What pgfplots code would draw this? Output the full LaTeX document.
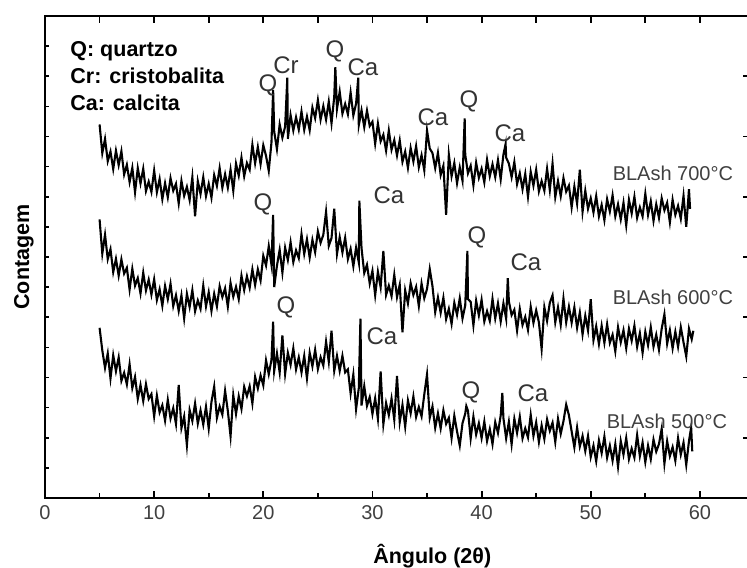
\documentclass[border=0pt]{standalone}
\usepackage{pgfplots}
\pgfplotsset{compat=1.18}
\usepackage{fontspec}
\setmainfont{Liberation Sans}
\begin{document}
\begin{tikzpicture}
\begin{axis}[at={(0,0)}, anchor=south west, scale only axis,
  width=352pt, height=241pt,
  xmin=0, xmax=64.5, ymin=0, ymax=16,
  xtick={0,10,...,60}, minor x tick num=1,
  ytick={0,1,...,16}, yticklabels={},
  tick align=inside, major tick length=2pt, minor tick length=2pt,
  axis line style={line width=0.9pt},
  tick style={black, line width=0.8pt},
  tick label style={font=\fontsize{10}{12}\selectfont, text=black!75},
  /pgf/number format/assume math mode=true,
  xlabel={Ângulo (2θ)}, ylabel={Contagem},
  every axis x label/.style={at={(axis description cs:0.55,-0.12)}, anchor=center, font=\bfseries\fontsize{10.75}{13}\selectfont},
  every axis y label/.style={at={(axis description cs:-0.0298,0.5)}, rotate=90, anchor=center, font=\bfseries\fontsize{10.75}{13}\selectfont},
  ytick pos=left, xtick pos=both,
]
% BLAsh 700 C
\addplot[black, line width=1.05pt, line join=miter, miter limit=12] coordinates {
(5.00,12.40)(5.25,11.45)(5.50,11.92)(5.75,11.18)
(6.00,11.50)(6.25,10.92)(6.50,11.53)(6.75,11.05)
(7.00,11.51)(7.25,10.74)(7.50,11.06)(7.75,10.49)
(8.00,10.96)(8.25,10.15)(8.50,10.95)(8.75,10.44)
(9.00,10.93)(9.25,10.19)(9.50,10.50)(9.75,10.16)
(10.00,10.87)(10.25,10.15)(10.50,10.59)(10.75,9.92)
(11.00,10.45)(11.25,9.98)(11.50,10.62)(11.75,10.20)
(12.00,10.43)(12.25,9.78)(12.50,10.53)(12.75,10.03)
(13.00,10.33)(13.25,9.89)(13.50,10.65)(13.75,9.35)
(14.00,10.52)(14.25,10.09)(14.50,10.65)(14.75,10.02)
(15.00,10.43)(15.25,9.97)(15.50,10.72)(15.75,10.36)
(16.00,10.95)(16.25,10.30)(16.50,10.75)(16.75,10.30)
(17.00,10.90)(17.25,10.20)(17.50,11.10)(17.75,10.70)
(18.00,11.30)(18.25,10.68)(18.50,11.12)(18.75,10.90)
(19.00,11.73)(19.25,11.11)(19.50,11.65)(19.75,11.08)
(20.00,11.71)(20.25,11.36)(20.50,10.86)(20.75,11.81)(20.90,13.55)
(21.00,12.16)(21.25,11.58)(21.50,12.40)(21.75,11.96)
(22.00,12.33)(22.20,13.95)(22.25,11.92)(22.50,12.71)(22.75,12.20)
(23.00,12.64)(23.25,12.23)(23.50,12.83)(23.75,12.22)
(24.00,12.66)(24.25,12.21)(24.50,12.96)(24.75,12.61)
(25.00,13.21)(25.25,12.56)(25.50,13.01)(25.75,12.56)
(26.00,13.16)(26.25,12.44)(26.50,13.32)(26.60,14.30)(26.75,12.91)
(27.00,13.49)(27.25,12.76)(27.50,13.08)(27.75,12.74)
(28.00,13.46)(28.25,12.70)(28.50,13.09)(28.70,13.95)(28.75,12.38)
(29.00,12.87)(29.25,12.31)(29.50,12.86)(29.75,12.35)
(30.00,12.49)(30.25,11.76)(30.50,12.43)(30.75,11.84)
(31.00,12.06)(31.25,11.53)(31.50,12.20)(31.75,11.56)
(32.00,11.88)(32.25,11.37)(32.50,11.87)(32.75,11.16)
(33.00,11.50)(33.25,10.96)(33.50,11.62)(33.75,11.17)
(34.00,11.68)(34.25,10.98)(34.50,11.38)(34.75,10.88)
(35.00,12.20)(35.25,11.60)(35.50,11.45)(35.75,10.95)
(36.00,11.46)(36.25,10.72)(36.50,11.03)(36.75,9.40)
(37.00,11.40)(37.25,10.68)(37.50,11.12)(37.75,10.45)
(38.00,10.98)(38.25,10.53)(38.45,12.60)(38.50,11.40)(38.75,10.78)
(39.00,11.03)(39.25,10.38)(39.50,11.13)(39.75,10.63)
(40.00,10.93)(40.25,10.48)(40.50,11.23)(40.75,10.68)
(41.00,11.08)(41.25,10.65)(41.50,11.22)(41.75,10.58)
(42.00,11.40)(42.20,11.75)(42.25,11.30)(42.50,11.10)(42.75,10.65)
(43.00,11.15)(43.25,10.42)(43.50,10.78)(43.75,10.25)
(44.00,10.76)(44.25,10.00)(44.50,10.83)(44.75,10.37)
(45.00,10.90)(45.25,10.18)(45.50,10.52)(45.75,10.20)
(46.00,10.93)(46.25,10.22)(46.50,11.10)(46.75,9.99)
(47.00,10.52)(47.25,10.02)(47.50,10.62)(47.75,10.17)
(48.00,10.37)(48.25,9.65)(48.50,10.34)(48.75,9.77)
(49.00,10.90)(49.25,9.50)(49.50,10.20)(49.75,9.60)
(50.00,9.95)(50.25,9.48)(50.50,10.02)(50.75,9.35)
(51.00,9.73)(51.25,9.22)(51.50,9.92)(51.75,9.51)
(52.00,10.05)(52.25,9.35)(52.50,9.75)(52.75,9.25)
(53.00,9.80)(53.25,9.05)(53.50,9.90)(53.75,9.45)
(54.00,10.00)(54.25,9.30)(54.50,9.65)(54.75,9.35)
(55.00,10.10)(55.25,9.40)(55.50,9.85)(55.75,9.20)
(56.00,9.75)(56.25,9.30)(56.50,9.95)(56.75,9.55)
(57.00,9.80)(57.25,9.15)(57.50,9.90)(57.75,9.40)
(58.00,9.70)(58.25,9.27)(58.50,10.03)(58.75,9.00)
(59.00,10.25)(59.10,9.60)
};
% BLAsh 600 C
\addplot[black, line width=1.05pt, line join=miter, miter limit=12] coordinates {
(5.00,9.25)(5.25,8.11)(5.50,8.74)(5.75,7.93)
(6.00,8.26)(6.25,7.50)(6.50,7.94)(6.75,7.38)
(7.00,7.92)(7.25,7.45)(7.50,7.64)(7.75,6.92)
(8.00,7.61)(8.25,7.05)(8.50,7.30)(8.75,6.79)
(9.00,7.48)(9.25,6.89)(9.50,7.25)(9.75,6.75)
(10.00,7.26)(10.25,6.57)(10.50,6.93)(10.75,6.38)
(11.00,7.04)(11.25,6.60)(11.50,7.11)(11.75,6.37)
(12.00,6.73)(12.25,6.21)(12.50,6.73)(12.75,5.96)
(13.00,6.78)(13.25,6.34)(13.50,6.90)(13.75,6.20)
(14.00,6.56)(14.25,6.28)(14.50,7.05)(14.75,6.36)
(15.00,6.83)(15.25,6.21)(15.50,6.78)(15.75,6.36)
(16.00,7.03)(16.25,6.67)(16.50,6.96)(16.75,6.35)
(17.00,7.14)(17.25,6.68)(17.50,7.01)(17.75,6.60)
(18.00,7.38)(18.25,6.90)(18.50,7.36)(18.75,6.98)
(19.00,7.59)(19.25,7.07)(19.50,7.59)(19.75,7.22)
(20.00,8.04)(20.25,7.72)(20.50,8.36)(20.75,7.74)(20.90,9.40)
(21.00,7.00)(21.25,7.71)(21.50,8.24)(21.75,7.48)
(22.00,8.31)(22.25,7.90)(22.50,8.49)(22.75,7.83)
(23.00,8.22)(23.25,7.96)(23.50,8.76)(23.75,8.10)
(24.00,8.59)(24.25,7.98)(24.50,8.57)(24.75,8.16)
(25.00,8.85)(25.25,8.47)(25.50,8.74)(25.75,9.50)
(26.00,8.37)(26.25,8.63)(26.50,9.60)(26.75,8.10)
(27.00,8.66)(27.25,8.15)(27.50,8.64)(27.75,7.93)
(28.00,8.27)(28.25,7.69)(28.50,8.31)(28.75,7.82)(28.80,9.87)
(29.00,8.29)(29.25,7.47)(29.50,7.74)(29.75,7.12)
(30.00,7.54)(30.25,6.73)(30.50,7.51)(30.75,7.00)
(31.00,8.20)(31.25,6.74)(31.50,7.05)(31.75,6.70)
(32.00,7.41)(32.25,6.67)(32.50,7.08)(32.75,5.50)
(33.00,6.89)(33.25,6.46)(33.50,7.13)(33.75,6.74)
(34.00,7.01)(34.25,6.37)(34.50,7.12)(34.75,6.63)
(35.00,6.94)(35.25,7.60)(35.50,7.03)(35.75,6.17)
(36.00,6.66)(36.25,6.15)(36.50,6.65)(36.75,5.94)
(37.00,6.28)(37.25,5.78)(37.50,6.48)(37.75,6.08)
(38.00,6.63)(38.25,5.96)(38.50,6.39)(38.70,8.20)(38.75,6.60)
(39.00,6.51)(39.25,5.73)(39.50,6.55)(39.75,6.06)
(40.00,6.58)(40.25,5.86)(40.50,6.20)(40.75,5.88)
(41.00,6.61)(41.25,5.96)(41.50,6.46)(41.75,5.86)
(42.00,6.46)(42.25,5.95)(42.40,7.30)(42.50,6.53)(42.75,6.07)
(43.00,6.25)(43.25,5.56)(43.50,6.28)(43.75,5.74)
(44.00,6.01)(44.25,5.58)(44.50,6.35)(44.75,5.81)
(45.00,6.23)(45.25,5.83)(45.50,4.95)(45.75,6.33)
(46.00,5.88)(46.25,6.48)(46.50,6.73)(46.75,5.83)
(47.00,6.33)(47.25,5.75)(47.50,6.62)(47.75,5.83)
(48.00,6.35)(48.25,5.82)(48.50,6.33)(48.75,5.65)
(49.00,6.16)(49.25,5.43)(49.50,6.05)(49.75,5.56)
(50.00,6.60)(50.25,5.24)(50.50,5.70)(50.75,5.11)
(51.00,5.72)(51.25,5.15)(51.50,5.77)(51.75,5.15)
(52.00,5.42)(52.25,4.87)(52.50,5.67)(52.75,5.17)
(53.00,5.57)(53.25,4.97)(53.50,5.62)(53.75,5.22)
(54.00,5.72)(54.25,5.02)(54.50,5.47)(54.75,4.82)
(55.00,5.52)(55.25,5.07)(55.50,5.67)(55.75,5.02)
(56.00,5.42)(56.25,4.92)(56.50,5.62)(56.75,6.10)
(57.00,5.12)(57.25,5.57)(57.50,4.97)(57.75,5.52)
(58.00,5.02)(58.25,5.67)(58.50,5.17)(58.75,4.70)
(59.00,5.62)(59.25,5.27)(59.40,5.55)
};
% BLAsh 500 C
\addplot[black, line width=1.05pt, line join=miter, miter limit=12] coordinates {
(5.00,5.65)(5.25,4.90)(5.50,4.32)(5.75,4.80)
(6.00,3.97)(6.25,4.74)(6.50,4.21)(6.75,4.67)
(7.00,3.89)(7.25,4.16)(7.50,3.77)(7.75,4.44)
(8.00,3.65)(8.25,4.02)(8.50,3.29)(8.75,3.75)
(9.00,3.22)(9.25,3.78)(9.50,3.29)(9.75,3.45)
(10.00,2.71)(10.25,3.40)(10.50,2.84)(10.75,3.08)
(11.00,2.57)(11.25,3.26)(11.50,2.64)(11.75,2.98)
(12.00,2.46)(12.25,3.75)(12.50,2.32)(12.75,2.71)
(13.00,1.75)(13.25,2.92)(13.50,2.56)(13.75,3.14)
(14.00,2.47)(14.25,2.91)(14.50,2.44)(14.75,3.03)
(15.00,2.31)(15.25,3.19)(15.50,3.70)(15.75,2.66)
(16.00,3.04)(16.25,2.77)(16.50,3.56)(16.75,2.89)
(17.00,2.05)(17.25,3.41)(17.50,2.79)(17.75,3.38)
(18.00,2.96)(18.25,3.69)(18.50,3.38)(18.75,3.71)
(19.00,3.14)(19.25,4.02)(19.50,3.64)(19.75,4.07)
(20.00,3.74)(20.25,4.57)(20.50,4.11)(20.75,4.59)(20.90,5.85)
(21.00,4.22)(21.25,4.80)(21.50,4.17)(21.75,5.40)
(22.00,4.12)(22.25,4.82)(22.50,4.42)(22.75,4.97)
(23.00,4.27)(23.25,4.67)(23.50,4.17)(23.75,4.72)
(24.00,3.97)(24.25,4.82)(24.50,4.37)(24.75,4.92)
(25.00,4.28)(25.25,4.67)(25.50,4.40)(25.75,5.19)
(26.00,4.52)(26.25,5.55)(26.50,4.22)(26.75,4.72)
(27.00,4.22)(27.25,4.72)(27.50,4.17)(27.75,4.27)
(28.00,3.47)(28.25,4.10)(28.50,2.95)(28.75,3.65)(28.90,5.95)
(29.00,3.07)(29.25,3.71)(29.50,3.06)(29.75,3.35)
(30.00,2.79)(30.25,3.31)(30.50,2.63)(30.75,4.20)
(31.00,2.45)(31.25,3.15)(31.50,2.75)(31.75,3.30)
(32.00,2.60)(32.25,4.05)(32.50,2.52)(32.75,3.09)
(33.00,2.37)(33.25,3.24)(33.50,2.81)(33.75,3.37)
(34.00,2.69)(34.25,3.02)(34.50,2.71)(34.75,3.44)
(35.00,4.10)(35.25,2.66)(35.50,3.04)(35.75,2.33)
(36.00,2.81)(36.25,2.31)(36.50,2.91)(36.75,2.46)
(37.00,2.66)(37.25,1.99)(37.50,2.73)(37.75,2.21)
(38.00,1.74)(38.25,2.48)(38.50,2.80)(38.60,3.05)(38.75,2.90)
(39.00,1.98)(39.25,2.70)(39.50,2.11)(39.75,2.48)
(40.00,1.99)(40.25,2.54)(40.50,1.89)(40.75,2.29)
(41.00,1.79)(41.25,2.52)(41.50,2.16)(41.75,2.74)(41.90,3.49)
(42.00,2.65)(42.25,1.98)(42.50,2.53)(42.75,1.78)
(43.00,2.63)(43.25,2.16)(43.50,2.70)(43.75,1.98)
(44.00,2.31)(44.25,2.01)(44.50,2.76)(44.75,2.06)
(45.00,2.51)(45.25,1.86)(45.50,2.41)(45.75,1.96)
(46.00,2.61)(46.25,2.23)(46.50,2.50)(46.75,1.86)
(47.00,2.63)(47.25,2.13)(47.50,2.55)(47.75,3.10)
(48.00,2.75)(48.25,2.21)(48.50,1.68)(48.75,2.34)
(49.00,1.71)(49.25,2.06)(49.50,1.56)(49.75,2.06)
(50.00,1.36)(50.25,1.74)(50.50,1.22)(50.75,1.91)
(51.00,1.49)(51.25,2.04)(51.50,1.34)(51.75,1.74)
(52.00,1.24)(52.25,1.79)(52.50,1.04)(52.75,1.89)
(53.00,1.44)(53.25,1.99)(53.50,1.29)(53.75,1.64)
(54.00,1.34)(54.25,2.09)(54.50,1.39)(54.75,1.84)
(55.00,1.19)(55.25,1.74)(55.50,1.29)(55.75,1.94)
(56.00,1.54)(56.25,1.79)(56.50,2.30)(56.75,1.14)
(57.00,1.89)(57.25,1.39)(57.50,1.69)(57.75,1.24)
(58.00,1.99)(58.25,1.44)(58.50,1.84)(58.75,1.10)
(59.00,1.89)(59.20,2.35)(59.30,1.55)
};
% legend block
\begin{scope}[every node/.style={anchor=base west, font=\bfseries\fontsize{10.75}{13}\selectfont, inner sep=0pt}]
\node at (axis cs:2.29,14.65) {Q: quartzo};
\node at (axis cs:2.29,13.77) {Cr: cristobalita};
\node at (axis cs:2.29,12.85) {Ca: calcita};
\end{scope}
% peak labels
\begin{scope}[every node/.style={anchor=center, font=\fontsize{12}{14}\selectfont, text=black!80, inner sep=0pt}]
\node at (axis cs:20.43,13.68) {Q};
\node at (axis cs:22.08,14.37) {Cr};
\node at (axis cs:26.56,14.84) {Q};
\node at (axis cs:29.13,14.31) {Ca};
\node at (axis cs:35.54,12.65) {Ca};
\node at (axis cs:38.84,13.18) {Q};
\node at (axis cs:42.59,12.12) {Ca};
\node at (axis cs:19.97,9.76) {Q};
\node at (axis cs:31.51,10.06) {Ca};
\node at (axis cs:39.57,8.66) {Q};
\node at (axis cs:44.06,7.83) {Ca};
\node at (axis cs:22.08,6.34) {Q};
\node at (axis cs:30.87,5.38) {Ca};
\node at (axis cs:39.02,3.49) {Q};
\node at (axis cs:44.70,3.49) {Ca};
\end{scope}
% series labels
\begin{scope}[every node/.style={anchor=center, font=\fontsize{10}{12}\selectfont, text=black!75, inner sep=0pt}]
\node at (axis cs:57.53,10.79) {BLAsh 700°C};
\node at (axis cs:57.53,6.67) {BLAsh 600°C};
\node at (axis cs:56.98,2.56) {BLAsh 500°C};
\end{scope}
\end{axis}
% frame tick marks (axis spans 352pt for 64.5 units: 5.45736pt per unit)
\foreach \t in {0,10,20,30,40,50,60} {\draw[black, line width=0.9pt] ({\t*5.45736pt},0pt) -- ({\t*5.45736pt},3.5pt);}
\foreach \t in {5,15,25,35,45,55} {\draw[black, line width=0.9pt] ({\t*5.45736pt},0pt) -- ({\t*5.45736pt},2.5pt);}
\foreach \t in {5,10,15,20,25,30,35,40,45,50,55,60} {\draw[black, line width=0.9pt] ({\t*5.45736pt},241pt) -- ({\t*5.45736pt},237.5pt);}
\foreach \t in {2,4,6,8,10,12,14} {\draw[black, line width=0.9pt] (352pt,{\t*15.0625pt}) -- (349pt,{\t*15.0625pt});}
\pgfresetboundingbox
\path[use as bounding box] (-22.5pt,-34.5pt) rectangle (351pt,249pt);
\end{tikzpicture}
\end{document}
